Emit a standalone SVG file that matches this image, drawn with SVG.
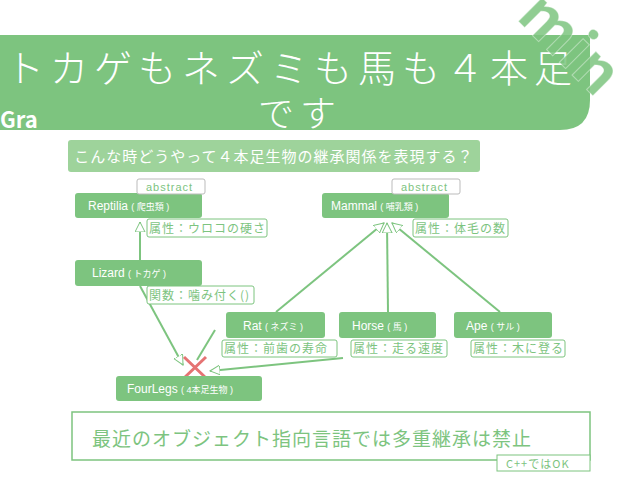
<svg xmlns="http://www.w3.org/2000/svg" width="638" height="479" viewBox="0 0 638 479">
<style>
text{font-family:"Noto Sans CJK JP","Liberation Sans",sans-serif}
.n{fill:#7dc47f}
.nt{fill:#fff;font-size:12px;font-family:"Liberation Sans","Noto Sans CJK JP",sans-serif}
.s{font-size:9px}
.at{fill:#fff;stroke:#7dc47f;stroke-width:1}
.att{fill:#7dc47f;font-size:12px;letter-spacing:1px}
.ab{fill:#fff;stroke:#bbb;stroke-width:1}
.abt{fill:#7dc47f;font-size:11px;font-family:"Liberation Sans",sans-serif;letter-spacing:1px}
.e{stroke:#7dc47f;stroke-width:2;fill:none}
</style>
<defs><marker id="tri" markerWidth="12" markerHeight="12" refX="10" refY="5" orient="auto" markerUnits="userSpaceOnUse"><path d="M0,0 L10,5 L0,10 Z" fill="#fff" stroke="#7dc47f"/></marker></defs>
<rect width="638" height="479" fill="#fff"/>
<g id="title">
<path d="M0,35 H590 V100 Q590,130 560,130 H0 Z" fill="#7dc47f"/>
<text x="6" y="82" fill="#fff" font-size="38" font-weight="300" letter-spacing="6">トカゲもネズミも馬も４本足</text>
<text x="258" y="127" fill="#fff" font-size="36" font-weight="300" letter-spacing="6">です</text>
<text x="0" y="128" fill="#fff" font-size="22" font-weight="bold" font-family="Liberation Sans,sans-serif">Gra</text>
<text x="0" y="0" transform="translate(515,18) rotate(45)" fill="#7dc47f" fill-opacity="0.85" stroke="#fff" stroke-opacity="0.4" font-size="60" font-weight="bold" font-family="Liberation Sans,sans-serif">min</text>
</g>
<g id="question"><rect x="68" y="140" width="412" height="32" rx="3" fill="#9ed39b"/>
<text x="274" y="162" text-anchor="middle" fill="#fff" font-size="15" letter-spacing="1">こんな時どうやって４本足生物の継承関係を表現する？</text></g>
<g id="connectors">
<line class="e" x1="140" y1="260" x2="140" y2="222" marker-end="url(#tri)"/>
<line class="e" x1="140" y1="286" x2="183" y2="365" marker-end="url(#tri)"/>
<line class="e" x1="215" y1="330" x2="197" y2="360"/>
<line class="e" x1="343" y1="358" x2="210" y2="371" marker-end="url(#tri)"/>
<line class="e" x1="276" y1="312" x2="384" y2="223" marker-end="url(#tri)"/>
<line class="e" x1="388" y1="312" x2="387" y2="223" marker-end="url(#tri)"/>
<line class="e" x1="500" y1="312" x2="392" y2="223" marker-end="url(#tri)"/>
<path d="M184,357 L206,378 M206,357 L184,378" stroke="#e57373" stroke-width="3"/>
</g>
<g id="reptilia"><rect class="n" x="75" y="193" width="127" height="25" rx="3"/><text class="nt" x="88" y="210">Reptilia <tspan class="s">( 爬虫類 )</tspan></text>
<rect class="ab" x="137" y="179" width="68" height="15" rx="2"/><text class="abt" x="146" y="191">abstract</text>
<rect class="at" x="147" y="219" width="120" height="18" rx="2"/><text class="att" x="149" y="233">属性：ウロコの硬さ</text></g>
<g id="mammal"><rect class="n" x="322" y="193" width="127" height="25" rx="3"/><text class="nt" x="331" y="210">Mammal <tspan class="s">( 哺乳類 )</tspan></text>
<rect class="ab" x="392" y="179" width="68" height="15" rx="2"/><text class="abt" x="401" y="191">abstract</text>
<rect class="at" x="413" y="219" width="95" height="18" rx="2"/><text class="att" x="415" y="233">属性：体毛の数</text></g>
<g id="lizard"><rect class="n" x="75" y="260" width="127" height="26" rx="3"/><text class="nt" x="92" y="277">Lizard <tspan class="s">( トカゲ )</tspan></text>
<rect class="at" x="147" y="286" width="107" height="18" rx="2"/><text class="att" x="149" y="300">関数：噛み付く()</text></g>
<g id="rat"><rect class="n" x="226" y="312" width="99" height="26" rx="3"/><text class="nt" x="243" y="330">Rat <tspan class="s">( ネズミ )</tspan></text>
<rect class="at" x="222" y="340" width="115" height="17" rx="2"/><text class="att" x="224" y="353">属性：前歯の寿命</text></g>
<g id="horse"><rect class="n" x="339" y="312" width="97" height="26" rx="3"/><text class="nt" x="352" y="330">Horse <tspan class="s">( 馬 )</tspan></text>
<rect class="at" x="351" y="340" width="96" height="17" rx="2"/><text class="att" x="353" y="353">属性：走る速度</text></g>
<g id="ape"><rect class="n" x="454" y="312" width="98" height="26" rx="3"/><text class="nt" x="466" y="330">Ape <tspan class="s">( サル )</tspan></text>
<rect class="at" x="471" y="340" width="94" height="17" rx="2"/><text class="att" x="473" y="353">属性：木に登る</text></g>
<g id="fourlegs"><rect class="n" x="116" y="376" width="146" height="25" rx="3"/><text class="nt" x="127" y="393">FourLegs <tspan class="s">( 4本足生物 )</tspan></text></g>
<g id="note"><rect x="72" y="412" width="518" height="48" fill="#fff" stroke="#7dc47f" stroke-width="1.5"/>
<text x="92" y="446" fill="#7dc47f" font-size="19" letter-spacing="1">最近のオブジェクト指向言語では多重継承は禁止</text>
<rect x="497" y="455" width="93" height="16" fill="#fff" stroke="#7dc47f"/><text x="506" y="468" fill="#7dc47f" font-size="11" letter-spacing="1">C++ではOK</text></g>
</svg>
